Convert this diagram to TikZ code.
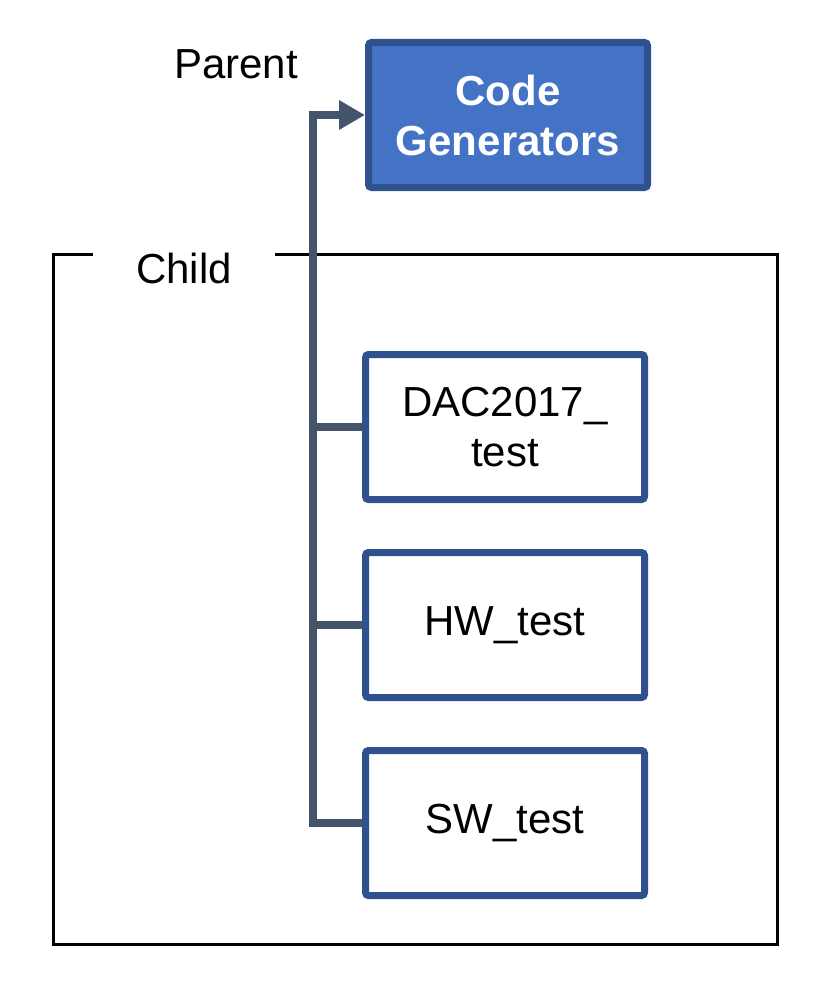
\documentclass[tikz,border=0pt]{standalone}
\usepackage{fontspec}
\setmainfont{Liberation Sans}
\usepackage{tikz}
\usetikzlibrary{arrows.meta}
\definecolor{boxfill}{HTML}{4472C4}
\definecolor{boxline}{HTML}{2F528F}
\definecolor{linkcol}{HTML}{44546A}
\newcommand{\bigfont}{\fontsize{42}{50}\selectfont}

\begin{document}
\begin{tikzpicture}[x=1pt,y=-1pt,
 every node/.style={font=\bigfont, align=center},
 unit/.style={draw=boxline, line width=7pt, rounded corners=3pt,
   minimum width=279pt, minimum height=145pt, fill=white},
 link/.style={draw=linkcol, line width=8pt, line join=miter}]
\useasboundingbox (0,0) rectangle (832,982);
% child frame, open at the label
\draw[line width=3pt] (93,254) -- (53,254) -- (53,944) -- (777,944)
  -- (777,254) -- (275,254);
\node[anchor=base] (child) at (184,283) {Child};
\node[anchor=base] (parent) at (236,78) {Parent};
\node[unit, fill=boxfill, text=white, font=\bigfont\bfseries] (gen) at (508,115)
  {Code\\Generators};
\node[unit] (dac) at (505,427) {DAC2017\_\\test};
\node[unit] (hw) at (505,625) {HW\_test};
\node[unit] (sw) at (505,823) {SW\_test};
\coordinate (top) at (313,115);
\draw[link, -{Triangle[length=26pt,width=28pt]}] (sw.west) -- (sw.west -| top)
  -- (top) -- (gen.west);
\draw[link] (dac.west) -- (dac.west -| top);
\draw[link] (hw.west) -- (hw.west -| top);
\end{tikzpicture}
\end{document}
